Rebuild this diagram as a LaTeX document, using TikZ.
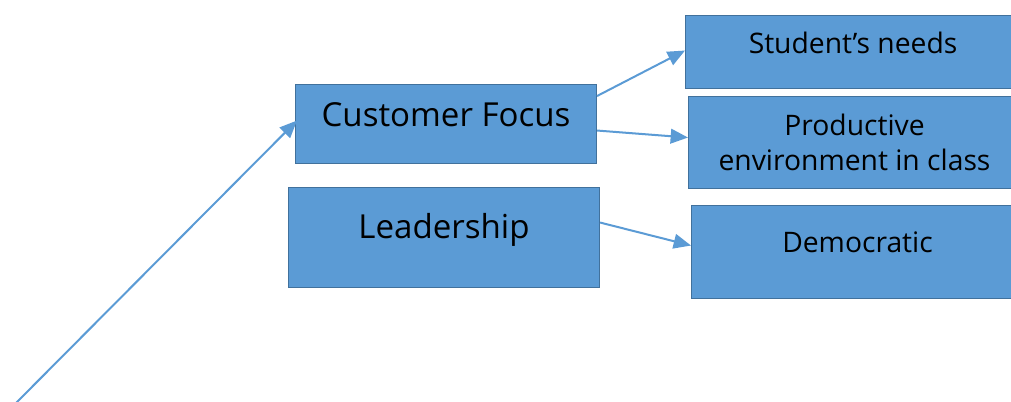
\documentclass[tikz,border=0pt]{standalone}
\usepackage{fontspec}
\setmainfont{Open Sans}
\usetikzlibrary{calc,arrows.meta}
\definecolor{boxfill}{HTML}{5B9BD5}
\definecolor{boxline}{HTML}{41719C}
\definecolor{arrowcol}{HTML}{5B9BD5}
\begin{document}
\begin{tikzpicture}[x=0.75pt,y=-0.75pt,
  box/.style={draw=boxline, fill=boxfill, line width=0.8pt, inner sep=0pt, anchor=north west},
  bigtxt/.style={font=\fontsize{24.8}{29}\selectfont, text=black, inner sep=0pt, anchor=base},
  smalltxt/.style={font=\fontsize{21.2}{26.25}\selectfont, text=black, inner sep=0pt, align=center},
  link/.style={draw=arrowcol, line width=1.5pt, -{Triangle[length=13pt,width=11pt]}}]
\clip (0,0) rectangle (1011,401);
\useasboundingbox (0,0) rectangle (1011,401);

% boxes
\node[box, minimum width=301*0.75pt, minimum height=79*0.75pt] (cf) at (295,84) {};
\node[box, minimum width=311*0.75pt, minimum height=100*0.75pt] (ld) at (288,187) {};
\node[box, minimum width=335*0.75pt, minimum height=73*0.75pt] (sn) at (685,15) {};
\node[box, minimum width=332*0.75pt, minimum height=92*0.75pt] (pe) at (688,96) {};
\node[box, minimum width=332*0.75pt, minimum height=93*0.75pt] (dm) at (691,205) {};

% labels
\node[bigtxt] (cft) at (cf.center |- 0,126.7) {Customer Focus};
\node[bigtxt] (ldt) at (ld.center |- 0,238) {Leadership};
\node[smalltxt, anchor=base] (snt) at (sn.center |- 0,53) {Student’s needs};
\node[smalltxt] (pet) at (pe.center) {Productive\\environment in class};
\node[smalltxt, anchor=base] (dmt) at (dm.center |- 0,252) {Democratic};

% connectors
\coordinate (origin) at (14,405);
\draw[link] (origin) -- ($(cf.west)+(2,-3.5)$);
\draw[link] ($(cf.north east)+(0,12)$) -- ($(sn.west)+(0,-1.5)$);
\draw[link] ($(cf.east)+(0,6.5)$) -- ($(pe.west)+(0,-5)$);
\draw[link] ($(ld.east)+(0,-15)$) -- ($(dm.west)+(0,-6.5)$);
\end{tikzpicture}
\end{document}
